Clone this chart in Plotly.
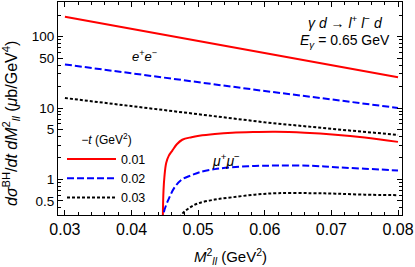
import plotly.graph_objects as go

# e+e- curves
x_ee = [0.03, 0.04, 0.05, 0.06, 0.07, 0.08]
ee_001 = [190, 128, 87, 59, 40, 27]
ee_002 = [40.8, 30.5, 23.0, 17.3, 13.2, 10.0]
ee_003 = [13.8, 10.6, 8.1, 6.3, 5.1, 4.2]

# mu+mu- curves
x_mu_001 = [0.04467, 0.04470, 0.04480, 0.04493, 0.0452, 0.0456, 0.04612, 0.0468, 0.04761, 0.0490, 0.05015, 0.0525, 0.0551, 0.0585, 0.0616, 0.066, 0.0706, 0.075, 0.080]
mu_001 = [0.05, 0.30, 0.70, 1.07, 1.70, 2.15, 2.53, 3.10, 3.59, 3.90, 4.08, 4.32, 4.50, 4.60, 4.64, 4.50, 4.22, 3.85, 3.35]
x_mu_002 = [0.04468, 0.04478, 0.0449, 0.0455, 0.0465, 0.0476, 0.0490, 0.0502, 0.0525, 0.0551, 0.0585, 0.062, 0.067, 0.0706, 0.075, 0.080]
mu_002 = [0.05, 0.30, 0.36, 0.51, 0.78, 1.00, 1.14, 1.26, 1.39, 1.48, 1.54, 1.56, 1.55, 1.48, 1.41, 1.33]
x_mu_003 = [0.04470, 0.0460, 0.0474, 0.0487, 0.0500, 0.0525, 0.0551, 0.0585, 0.0620, 0.067, 0.0706, 0.075, 0.080]
mu_003 = [0.02, 0.15, 0.31, 0.40, 0.46, 0.52, 0.56, 0.61, 0.64, 0.64, 0.63, 0.61, 0.60]

labels = ["0.01", "0.02", "0.03"]
colors = ["#ff0000", "#0000ff", "#000000"]
dashes = ["solid", "7px,3px", "3px,2px"]

y_ticks = [0.5, 1, 5, 10, 50, 100]
y_ticktext = ["0.5", "1", "5", "10", "50", "100"]
y_minor = [0.4, 0.6, 0.7, 0.8, 0.9, 2, 3, 4, 6, 7, 8, 9, 20, 30, 40, 60, 70, 80, 90, 200, 300]
x_ticks = [0.03, 0.04, 0.05, 0.06, 0.07, 0.08]
x_ticktext = ["0.03", "0.04", "0.05", "0.06", "0.07", "0.08"]

FONT = "Liberation Sans, Arial, sans-serif"

fig = go.Figure()
ee = [ee_001, ee_002, ee_003]
mux = [x_mu_001, x_mu_002, x_mu_003]
muy = [mu_001, mu_002, mu_003]
for i in range(3):
    fig.add_trace(go.Scatter(x=x_ee, y=ee[i], mode="lines", name=labels[i],
                             line=dict(color=colors[i], width=2, dash=dashes[i]),
                             legendgroup=labels[i], showlegend=True))
    fig.add_trace(go.Scatter(x=mux[i], y=muy[i], mode="lines", name=labels[i],
                             line=dict(color=colors[i], width=2, dash=dashes[i], shape="spline"),
                             legendgroup=labels[i], showlegend=False))

fig.update_layout(
    width=415, height=267,
    margin=dict(l=58, r=11, t=1, b=52),
    plot_bgcolor="white", paper_bgcolor="white",
    font=dict(family=FONT, color="black"),
    showlegend=True,
    legend=dict(x=0.0116, y=0.405, xanchor="left", yanchor="top",
                bgcolor="rgba(0,0,0,0)", font=dict(size=12.5, family=FONT),
                title=dict(text="<i>−t</i> (GeV<sup>2</sup>)", side="top center",
                           font=dict(size=12, family=FONT)),
                tracegroupgap=0, itemwidth=49),
    xaxis=dict(range=[0.02896, 0.0806], tickvals=x_ticks, ticktext=x_ticktext,
               tickfont=dict(size=16), ticks="inside", ticklen=5, tickcolor="black",
               ticklabeloverflow="allow",
               showline=True, linecolor="black", linewidth=1, mirror="allticks",
               showgrid=False, zeroline=False,
               minor=dict(dtick=0.002, ticks="inside", ticklen=3, tickcolor="black", showgrid=False)),
    yaxis=dict(type="log", range=[-0.5, 2.486], tickvals=y_ticks, ticktext=y_ticktext,
               tickfont=dict(size=13.5), ticks="inside", ticklen=5, tickcolor="black",
               showline=True, linecolor="black", linewidth=1, mirror="allticks",
               showgrid=False, zeroline=False,
               minor=dict(tickvals=y_minor, ticks="inside", ticklen=3, tickcolor="black", showgrid=False)),
)

def note(text, x, y, size, angle=0):
    fig.add_annotation(text=text, xref="paper", yref="paper", x=x, y=y,
                       xanchor="center", yanchor="middle", textangle=angle,
                       showarrow=False, font=dict(size=size))

note("<i>M</i><sup>2</sup><sub><i>ll</i></sub> (GeV<sup>2</sup>)", 0.5, -0.196, 15)
note("<i>dσ</i><sup>BH</sup>/<i>dt dM</i><sup>2</sup><sub><i>ll</i></sub> (<i>μ</i>b/GeV<sup>4</sup>)", -0.135, 0.43, 16, -90)
note("<i>e</i><sup>+</sup><i>e</i><sup>−</sup>", 0.25, 0.745, 13)
note("<i>μ</i><sup>+</sup><i>μ</i><sup>−</sup>", 0.488, 0.26, 14)
note("<i>γ d</i> → <i>l</i><sup>+</sup> <i>l</i><sup>−</sup> <i>d</i>", 0.835, 0.905, 14)
note("<i>E<sub>γ</sub></i> = 0.65 GeV", 0.835, 0.815, 14)

fig.write_html("out.html", config={"displayModeBar": False},
               post_script="document.body.style.margin='0';document.body.style.overflow='hidden';")
